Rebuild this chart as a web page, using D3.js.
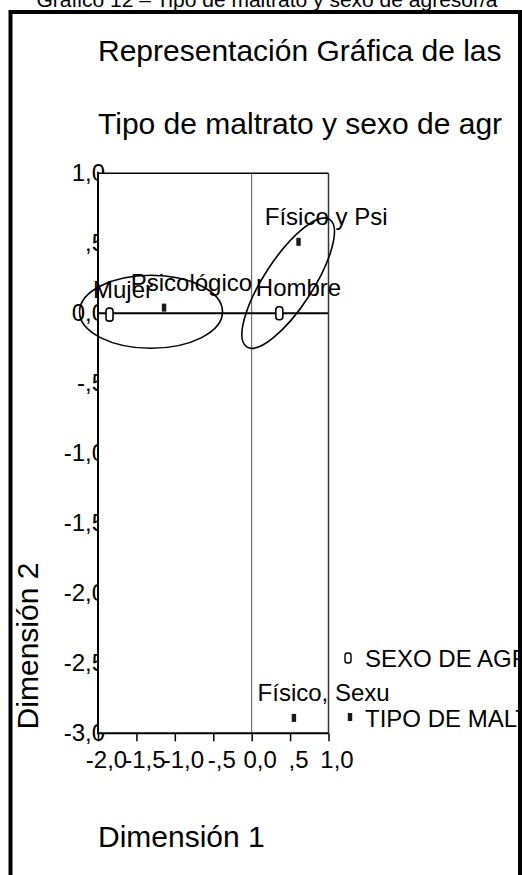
<!DOCTYPE html>
<html>
<head>
<meta charset="utf-8">
<script src="https://cdn.jsdelivr.net/npm/d3@7"></script>
<style>
body{margin:0;background:#fff;}
svg{display:block;font-family:"Liberation Sans",Arial,sans-serif;}
</style>
</head>
<body>
<div id="chart"></div>
<script>
// SEXO DE AGRESOR/A
var sexoLabels = ["Mujer", "Hombre"];
var sexoDim1 = [-1.85, 0.36];
var sexoDim2 = [-0.01, 0.00];
// TIPO DE MALTRATO (labels cut to 12 chars like the original)
var tipoLabels = ["Psicológico", "Físico y Psi", "Físico, Sexu"];
var tipoDim1 = [-1.14, 0.61, 0.55];
var tipoDim2 = [0.04, 0.51, -2.89];

var xTicks = [-2, -1.5, -1, -0.5, 0, 0.5, 1];
var xTickLabels = ["-2,0", "-1,5", "-1,0", "-,5", "0,0", ",5", "1,0"];
var yTicks = [1, 0.5, 0, -0.5, -1, -1.5, -2, -2.5, -3];
var yTickLabels = ["1,0", ",5", "0,0", "-,5", "-1,0", "-1,5", "-2,0", "-2,5", "-3,0"];

var legendLabels = ["SEXO DE AGRESOR/A", "TIPO DE MALTRATO"];

// rings drawn round the groups, centre in dimension units
var ringDim1 = [-1.31, 0.475];
var ringDim2 = [0.01, 0.215];

var W = 522, H = 875;
var svg = d3.select("#chart").append("svg")
	.attr("width", W)
	.attr("height", H);

svg.append("clipPath").attr("id", "inside")
	.append("rect").attr("x", 0).attr("y", 0).attr("width", 518).attr("height", H);

var x = d3.scaleLinear().domain([-2, 1]).range([98, 328.5]);
var y = d3.scaleLinear().domain([-3, 1]).range([733.3, 173.2]);

// caption above the frame (half out of the picture)
svg.append("text")
	.attr("x", 267).attr("y", 7.3)
	.attr("text-anchor", "middle")
	.style("font-size", "21px")
	.text("Gráfico 12 – Tipo de maltrato y sexo de agresor/a");

var g = svg.append("g").attr("clip-path", "url(#inside)");

g.append("text").attr("x", 98).attr("y", 61)
	.style("font-size", "30px")
	.text("Representación Gráfica de las");
g.append("text").attr("x", 98).attr("y", 134)
	.style("font-size", "30px")
	.text("Tipo de maltrato y sexo de agr");

// y labels first, the plot area covers their right part
var yAxis = g.append("g")
	.attr("transform", "translate(" + x(-2) + ",0)")
	.call(d3.axisLeft(y).tickValues(yTicks).tickSize(0).tickPadding(-7)
		.tickFormat(function(d, i){ return yTickLabels[i]; }));
yAxis.select(".domain").remove();
yAxis.selectAll("text")
	.style("font-size", "24px")
	.style("font-family", "Liberation Sans, Arial, sans-serif")
	.attr("fill", "#000");

var x0 = x(-2), x1 = x(1), y0 = y(1), y1 = y(-3);
g.append("rect")
	.attr("x", x0).attr("y", y0)
	.attr("width", x1 - x0).attr("height", y1 - y0)
	.attr("fill", "#fff");

// reference lines
g.append("line")
	.attr("x1", x(0)).attr("x2", x(0)).attr("y1", y0).attr("y2", y1)
	.attr("stroke", "#555").attr("stroke-width", 1);
g.append("line")
	.attr("x1", x0).attr("x2", x1).attr("y1", y(0)).attr("y2", y(0))
	.attr("stroke", "#000").attr("stroke-width", 2);

// plot box
g.append("line").attr("x1", x0).attr("x2", x1).attr("y1", y0).attr("y2", y0)
	.attr("stroke", "#000").attr("stroke-width", 1.5);
g.append("line").attr("x1", x1).attr("x2", x1).attr("y1", y0).attr("y2", y1)
	.attr("stroke", "#333").attr("stroke-width", 1.5);
g.append("line").attr("x1", x0).attr("x2", x0).attr("y1", y0 - 1.5).attr("y2", y1 + 1)
	.attr("stroke", "#000").attr("stroke-width", 2);

var xAxis = g.append("g")
	.attr("transform", "translate(0," + y1 + ")")
	.call(d3.axisBottom(x).tickValues(xTicks).tickSize(8).tickPadding(10)
		.tickFormat(function(d, i){ return xTickLabels[i]; }));
xAxis.select(".domain").attr("stroke", "#000").attr("stroke-width", 2)
	.attr("d", "M" + x0 + ",0H" + x1);
xAxis.selectAll("line").attr("stroke", "#000").attr("stroke-width", 1.5);
xAxis.selectAll("text")
	.attr("x", 8)
	.style("font-size", "24px")
	.style("font-family", "Liberation Sans, Arial, sans-serif")
	.attr("fill", "#000");

// rings
var ringShape = [{rx: 71.5, ry: 36.5, rot: 0}, {rx: 76, ry: 24.5, rot: -57}];
g.selectAll("ellipse.ring").data(ringDim1).enter().append("ellipse")
	.attr("class", "ring")
	.attr("transform", function(d, i){
		return "translate(" + x(d) + "," + y(ringDim2[i]) + ") rotate(" + ringShape[i].rot + ")";
	})
	.attr("rx", function(d, i){ return ringShape[i].rx; })
	.attr("ry", function(d, i){ return ringShape[i].ry; })
	.attr("fill", "none")
	.attr("stroke", "#000")
	.attr("stroke-width", 1.6);

// points
g.selectAll("rect.sexo").data(sexoDim1).enter().append("rect")
	.attr("class", "sexo")
	.attr("x", function(d){ return x(d) - 3.5; })
	.attr("y", function(d, i){ return y(sexoDim2[i]) - 6.5; })
	.attr("width", 7).attr("height", 13).attr("rx", 3)
	.attr("fill", "#fff").attr("stroke", "#000").attr("stroke-width", 1.6);

g.selectAll("rect.tipo").data(tipoDim1).enter().append("rect")
	.attr("class", "tipo")
	.attr("x", function(d){ return x(d) - 2.2; })
	.attr("y", function(d, i){ return y(tipoDim2[i]) - 4; })
	.attr("width", 4.4).attr("height", 8)
	.attr("fill", "#1a1a1a");

function addLabels(labels, d1, d2){
	labels.forEach(function(t, i){
		var txt = g.append("text")
			.attr("y", y(d2[i]) - 17)
			.style("font-size", "24px")
			.text(t);
		var len = txt.node().getComputedTextLength();
		txt.attr("x", x(d1[i]) - 0.275 * len);
	});
}
addLabels(sexoLabels, sexoDim1, sexoDim2);
addLabels(tipoLabels, tipoDim1, tipoDim2);

// legend
var leg = g.append("g");
leg.append("rect").attr("x", 345).attr("y", 653).attr("width", 6).attr("height", 10).attr("rx", 2.5)
	.attr("fill", "#fff").attr("stroke", "#000").attr("stroke-width", 1.4);
leg.append("rect").attr("x", 347.8).attr("y", 713).attr("width", 4.4).attr("height", 8)
	.attr("fill", "#1a1a1a");
leg.selectAll("text").data(legendLabels).enter().append("text")
	.attr("x", 365)
	.attr("y", function(d, i){ return i == 0 ? 667 : 727; })
	.style("font-size", "24px")
	.text(function(d){ return d; });

// axis titles
g.append("text").attr("x", 98).attr("y", 847)
	.style("font-size", "30px")
	.text("Dimensión 1");
g.append("text")
	.attr("transform", "translate(38,646) rotate(-90)")
	.attr("text-anchor", "middle")
	.style("font-size", "30px")
	.text("Dimensión 2");

// outer frame
svg.append("rect")
	.attr("x", 10.5).attr("y", 12)
	.attr("width", 509.5).attr("height", 900)
	.attr("fill", "none").attr("stroke", "#000").attr("stroke-width", 4);
</script>
</body>
</html>
